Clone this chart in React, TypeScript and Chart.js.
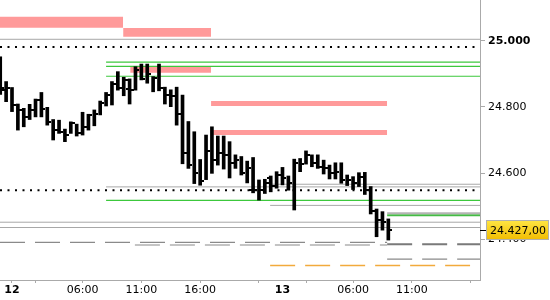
import React, { useEffect, useRef } from 'react';
import { Chart, registerables } from 'chart.js';

Chart.register(...registerables);

// ---- data: 30-minute OHLC bars (index 0 = 23:00 of day 11) ----
const highs = [
  24952, 24877, 24859, 24809, 24796, 24808, 24824, 24844, 24799, 24762,
  24760, 24733, 24755, 24748, 24784, 24778, 24791, 24818, 24844, 24877,
  24907, 24890, 24885, 24922, 24930, 24930, 24892, 24930, 24860, 24852,
  24860, 24836, 24756, 24725, 24641, 24715, 24740, 24712, 24712, 24695,
  24655, 24650, 24636, 24647, 24579, 24581, 24591, 24604, 24617, 24591,
  24642, 24644, 24667, 24655, 24655, 24639, 24624, 24631, 24631, 24594,
  24589, 24601, 24602, 24559, 24491, 24483, 24461,
];
const lows = [
  24838, 24816, 24786, 24730, 24740, 24762, 24770, 24770, 24745, 24700,
  24720, 24695, 24720, 24712, 24715, 24730, 24743, 24776, 24803, 24806,
  24851, 24834, 24809, 24851, 24882, 24872, 24846, 24849, 24809, 24801,
  24745, 24628, 24614, 24568, 24563, 24580, 24599, 24624, 24612, 24585,
  24614, 24594, 24570, 24540, 24518, 24538, 24543, 24554, 24564, 24548,
  24488, 24604, 24627, 24619, 24614, 24597, 24582, 24582, 24569, 24562,
  24550, 24559, 24535, 24476, 24407, 24427, 24397,
];
const closes = [
  24859, 24856, 24806, 24791, 24770, 24791, 24821, 24793, 24755, 24730,
  24725, 24715, 24750, 24722, 24740, 24776, 24779, 24811, 24836, 24871,
  24856, 24882, 24851, 24912, 24885, 24900, 24887, 24856, 24836, 24834,
  24778, 24660, 24624, 24600, 24575, 24668, 24639, 24660, 24655, 24629,
  24640, 24599, 24614, 24550, 24548, 24569, 24560, 24594, 24586, 24569,
  24631, 24627, 24655, 24629, 24619, 24614, 24599, 24604, 24579, 24579,
  24571, 24589, 24550, 24486, 24458, 24453, 24427,
];
// open ticks that are visible on the left of a few bars
const openIndex = [1, 10, 22, 43, 46];
const openValues = [24851, 24730, 24855, 24550, 24586];

const lastPrice = 24427;

// ---- axes ----
const xTickIndex = [2, 6, 14, 24, 34, 44, 48, 52, 60, 70, 80];
const xTickLabels = ['12', '', '06:00', '11:00', '16:00', '', '13', '', '06:00', '11:00', ''];
const yTicks = [25000, 24800, 24600, 24400];
const X_MIN = -0.04;
const X_MAX = 81.59;
const Y_MIN = 24276;
const Y_MAX = 25124;

// ---- shaded zones (price top/bottom, bar-index start/end) ----
const zoneTop = [25073, 25039, 24922, 24818, 24730];
const zoneBottom = [25040, 25013, 24904, 24803, 24715];
const zoneStart = [X_MIN, 20.9, 22.1, 35.85, 35.85];
const zoneEnd = [20.9, 35.85, 35.85, 65.8, 65.8];

// ---- horizontal levels ----
const levelValues = [25005, 24982, 24936, 24923, 24893, 24566, 24558, 24548, 24517, 24502, 24451, 24435, 24478, 24472, 24390, 24382, 24384, 24339, 24320];
const levelStart = [X_MIN, X_MIN, 18, 18, 18, 45.9, 18, X_MIN, 18, 45.9, X_MIN, X_MIN, 65.8, 65.8, X_MIN, 22.9, 65.8, 65.8, 45.9];
const levelEnd = [X_MAX, 80.9, X_MAX, X_MAX, X_MAX, X_MAX, X_MAX, 80.9, X_MAX, X_MAX, X_MAX, X_MAX, X_MAX, X_MAX, 65.8, 65.8, X_MAX, X_MAX, 79.9];
const levelKind = ['gray', 'dotted', 'green', 'green', 'green', 'gray', 'gray', 'dotted', 'green', 'gray', 'gray', 'gray', 'grayBold', 'greenBold', 'dashed', 'dashed', 'dashedDark', 'dashed', 'orange'];

// ---- styles ----
const FONT = 'DejaVu Sans';
const levelStyles: Record<string, { color: string; width: number; dash: number[] }> = {
  gray: { color: '#a8a8a8', width: 1, dash: [] },
  grayBold: { color: '#b4b4b4', width: 2, dash: [] },
  green: { color: '#3cc83c', width: 1.2, dash: [] },
  greenBold: { color: '#44bb44', width: 2, dash: [] },
  dotted: { color: '#000000', width: 2, dash: [2, 5.5] },
  dashed: { color: '#8a8a8a', width: 1.2, dash: [25, 10] },
  dashedDark: { color: '#7a7a7a', width: 2, dash: [25, 10] },
  orange: { color: '#f2aa3c', width: 1.4, dash: [25, 10] },
};
const ZONE_COLOR = '#ff9a9a';

function fmtThousands(v: number): string {
  return String(Math.round(v)).replace(/\B(?=(\d{3})+(?!\d))/g, '.');
}
function fmtPrice(v: number): string {
  return fmtThousands(Math.floor(v)) + ',' + (Math.round(v * 100) % 100).toString().padStart(2, '0');
}

function makeTickImage(side: 'left' | 'right'): HTMLCanvasElement {
  const c = document.createElement('canvas');
  c.width = 8;
  c.height = 2;
  const g = c.getContext('2d')!;
  g.fillStyle = '#000';
  if (side === 'right') g.fillRect(4, 0, 4, 2);
  else g.fillRect(0, 0, 4, 2);
  return c;
}

const priceTagPlugin = {
  id: 'priceTag',
  afterDraw(chart: any) {
    const { ctx, chartArea, scales } = chart;
    const y = Math.round(scales.y.getPixelForValue(lastPrice));
    ctx.save();
    ctx.strokeStyle = '#000';
    ctx.lineWidth = 1;
    ctx.beginPath();
    ctx.moveTo(chartArea.right, y + 0.5);
    ctx.lineTo(chartArea.right + 6, y + 0.5);
    ctx.stroke();
    const bx = chartArea.right + 6;
    const bw = 63;
    const bh = 20;
    const by = y - 10;
    const g = ctx.createLinearGradient(0, by, 0, by + bh);
    g.addColorStop(0, '#ffe645');
    g.addColorStop(1, '#f1bc00');
    ctx.fillStyle = g;
    ctx.fillRect(bx, by, bw, bh);
    ctx.strokeStyle = '#b0b0b0';
    ctx.strokeRect(bx + 0.5, by + 0.5, bw - 1, bh - 1);
    ctx.fillStyle = '#000';
    ctx.font = `11px "${FONT}"`;
    ctx.textBaseline = 'middle';
    ctx.textAlign = 'left';
    ctx.fillText(fmtPrice(lastPrice), bx + 4, y + 1);
    ctx.restore();
  },
};

export default function App() {
  const ref = useRef<HTMLCanvasElement | null>(null);

  useEffect(() => {
    document.body.style.margin = '0';
    const canvas = ref.current;
    if (!canvas) return;

    const closeImg = makeTickImage('right');
    const openImg = makeTickImage('left');

    const zoneSets = zoneTop.map((top, k) => ({
      type: 'line' as const,
      data: [
        { x: zoneStart[k], y: zoneBottom[k] },
        { x: zoneEnd[k], y: zoneBottom[k] },
      ],
      borderWidth: 0,
      borderColor: 'rgba(0,0,0,0)',
      backgroundColor: ZONE_COLOR,
      fill: { value: top },
      pointRadius: 0,
      order: 5,
    }));

    const levelSets = levelValues.map((v, k) => {
      const st = levelStyles[levelKind[k]];
      return {
        type: 'line' as const,
        data: [
          { x: levelStart[k], y: v },
          { x: levelEnd[k], y: v },
        ],
        borderColor: st.color,
        borderWidth: st.width,
        borderDash: st.dash,
        borderCapStyle: 'butt' as const,
        fill: false,
        pointRadius: 0,
        order: 4,
      };
    });

    const chart = new Chart(canvas, {
      type: 'line',
      data: {
        datasets: [
          ...zoneSets,
          ...levelSets,
          {
            type: 'bar',
            data: highs.map((h, i) => ({ x: i, y: [lows[i], h] })),
            backgroundColor: '#000',
            borderWidth: 0,
            barThickness: 3,
            grouped: false,
            order: 1,
          } as any,
          {
            type: 'line',
            data: closes.map((c, i) => ({ x: i, y: c })),
            showLine: false,
            pointStyle: closeImg,
            pointRadius: 3,
            order: 0,
          } as any,
          {
            type: 'line',
            data: openIndex.map((i, k) => ({ x: i, y: openValues[k] })),
            showLine: false,
            pointStyle: openImg,
            pointRadius: 3,
            order: 0,
          } as any,
        ],
      },
      options: {
        responsive: false,
        animation: false,
        events: [],
        layout: { padding: 0, autoPadding: false },
        plugins: {
          legend: { display: false },
          tooltip: { enabled: false },
        },
        scales: {
          x: {
            type: 'linear',
            min: X_MIN,
            max: X_MAX,
            offset: false,
            afterBuildTicks: (axis: any) => {
              axis.ticks = xTickIndex.map((v) => ({ value: v }));
            },
            afterFit: (axis: any) => {
              axis.height = 20;
              axis.paddingLeft = 0;
              axis.paddingRight = 0;
            },
            grid: {
              offset: false,
              drawOnChartArea: false,
              drawTicks: true,
              tickLength: 3,
              color: (ctx: any) => (ctx.index === 6 ? 'rgba(0,0,0,0)' : '#aaaaaa'),
            },
            border: { display: true, color: '#aaaaaa' },
            ticks: {
              autoSkip: false,
              maxRotation: 0,
              padding: 1,
              color: '#000',
              font: (ctx: any) => ({
                family: FONT,
                size: 11,
                weight: xTickLabels[ctx.index] === '12' || xTickLabels[ctx.index] === '13' ? 'bold' : 'normal',
              }),
              callback: (_v: any, index: number) => xTickLabels[index],
            },
          },
          y: {
            type: 'linear',
            position: 'right',
            min: Y_MIN,
            max: Y_MAX,
            afterBuildTicks: (axis: any) => {
              axis.ticks = yTicks.map((v) => ({ value: v }));
            },
            afterFit: (axis: any) => {
              axis.width = 70;
              axis.paddingTop = 0;
              axis.paddingBottom = 0;
            },
            grid: {
              drawOnChartArea: false,
              drawTicks: true,
              tickLength: 5,
              color: '#aaaaaa',
            },
            border: { display: true, color: '#aaaaaa' },
            ticks: {
              padding: 3,
              color: '#000',
              font: (ctx: any) => ({
                family: FONT,
                size: 11,
                weight: ctx.tick && ctx.tick.value % 1000 === 0 ? 'bold' : 'normal',
              }),
              callback: (v: any) => fmtThousands(Number(v)),
            },
          },
        },
      },
      plugins: [priceTagPlugin],
    } as any);

    return () => chart.destroy();
  }, []);

  return <canvas ref={ref} width={550} height={300} style={{ display: 'block' }} />;
}
